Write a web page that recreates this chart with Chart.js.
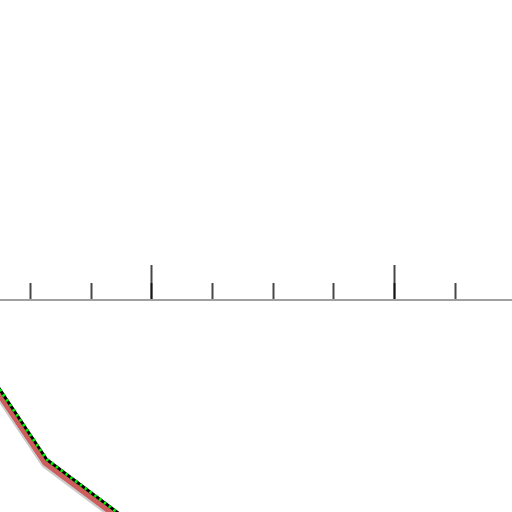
<!DOCTYPE html>
<html>
<head>
<meta charset="utf-8">
<script src="https://cdn.jsdelivr.net/npm/chart.js@4/dist/chart.umd.min.js"></script>
<style>
  html, body { margin: 0; padding: 0; background: #fff; }
  canvas { display: block; }
</style>
</head>
<body>
<canvas id="myChart" width="512" height="512"></canvas>
<script>
// visible window of the data (x / y)
const xRange = [1.5, 9.935];
const yRange = [-3.493, 4.942];
const minorStep = 1;
const majorStep = 4;

// the curve
const xValues = [1.0, 2.27, 3.97];
const yValues = [-0.733, -2.628, -3.9];

const points = xValues.map((x, i) => ({ x: x, y: yValues[i] }));

// draws a dataset a few pixels off its place (stroke / shadow effect)
const shiftPlugin = {
    id: 'shift',
    beforeDatasetDraw(chart, args) {
        const ds = chart.data.datasets[args.index];
        chart.ctx.save();
        if (ds.shift) chart.ctx.translate(ds.shift[0], ds.shift[1]);
    },
    afterDatasetDraw(chart) {
        chart.ctx.restore();
    },
};

const lineStyle = {
    pointRadius: 0,
    tension: 0,
    fill: false,
    borderJoinStyle: 'round',
};

const data = {
    datasets: [
        {
            ...lineStyle,
            data: points,
            borderColor: '#00ee00',
            borderWidth: 3,
            borderDash: [2.4, 3.6],
        },
        {
            ...lineStyle,
            data: points,
            borderColor: '#000000',
            borderWidth: 3,
        },
        {
            ...lineStyle,
            data: points,
            borderColor: '#cd5c5c',
            borderWidth: 7,
            shift: [-1, 3],
        },
        {
            ...lineStyle,
            data: points,
            borderColor: 'rgba(0,0,0,0.2)',
            borderWidth: 7,
            shift: [-2, 5],
        },
    ],
};

const tickGrid = (len) => ({
    drawOnChartArea: false,
    drawTicks: true,
    tickLength: len,
    tickWidth: 2,
    tickColor: 'rgba(0,0,0,0.72)',
});

const config = {
    type: 'line',
    data: data,
    options: {
        responsive: false,
        animation: false,
        layout: { padding: 0 },
        plugins: {
            legend: { display: false },
            tooltip: { enabled: false },
        },
        scales: {
            x: {
                type: 'linear',
                min: xRange[0],
                max: xRange[1],
                position: { y: 0 },
                border: { display: true, color: '#a0a0a0', width: 2 },
                grid: tickGrid(-18),
                ticks: { stepSize: minorStep, includeBounds: false, display: false },
            },
            x2: {
                type: 'linear',
                axis: 'x',
                min: xRange[0],
                max: xRange[1],
                position: { y: 0 },
                border: { display: true, color: 'rgba(0,0,0,0)', width: 2 },
                grid: tickGrid(-36),
                ticks: { stepSize: majorStep, includeBounds: false, display: false },
            },
            y: {
                type: 'linear',
                display: false,
                min: yRange[0],
                max: yRange[1],
            },
        },
    },
    plugins: [shiftPlugin],
};

new Chart(document.getElementById('myChart').getContext('2d'), config);
</script>
</body>
</html>
